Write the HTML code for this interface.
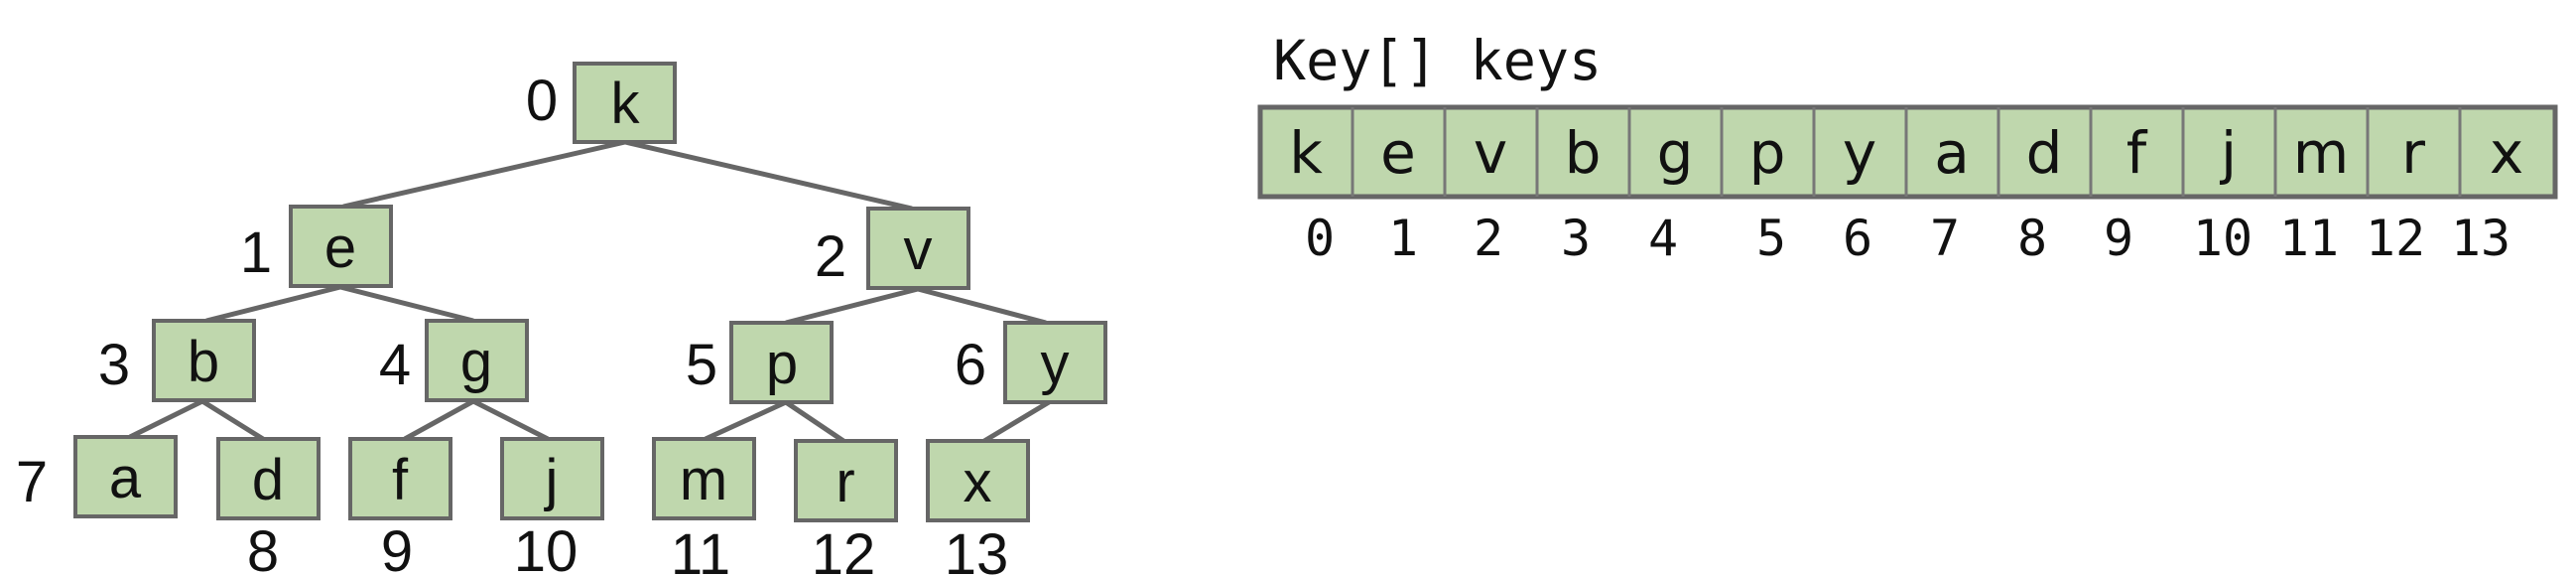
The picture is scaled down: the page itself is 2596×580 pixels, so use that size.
<!DOCTYPE html>
<html><head><style>
html,body{margin:0;padding:0;background:#fff;}
svg{display:block;}
.n{fill:#bfd7ad;stroke:#666;stroke-width:4;}
.l{stroke:#666;stroke-width:5;}
.t{font-family:"Liberation Sans",sans-serif;font-size:58px;fill:#111;text-anchor:middle;}
.i{font-family:"Liberation Sans",sans-serif;font-size:58px;fill:#111;text-anchor:middle;}
.m{font-family:"DejaVu Sans Mono",monospace;fill:#111;}
.a{font-family:"DejaVu Sans","Liberation Sans",sans-serif;font-size:58px;fill:#111;text-anchor:middle;}
</style></head><body>
<svg width="2596" height="580" viewBox="0 0 2596 580" xmlns="http://www.w3.org/2000/svg">
<g>
<line class="l" x1="630" y1="143" x2="346" y2="208"/>
<line class="l" x1="630" y1="143" x2="919" y2="210"/>
<line class="l" x1="343" y1="289" x2="208" y2="323"/>
<line class="l" x1="343" y1="289" x2="477" y2="323"/>
<line class="l" x1="925" y1="291" x2="792" y2="325"/>
<line class="l" x1="925" y1="291" x2="1054" y2="325"/>
<line class="l" x1="204" y1="404" x2="131" y2="440"/>
<line class="l" x1="204" y1="404" x2="265" y2="442"/>
<line class="l" x1="477" y1="404" x2="408" y2="442"/>
<line class="l" x1="477" y1="404" x2="552" y2="442"/>
<line class="l" x1="792" y1="405" x2="711" y2="442"/>
<line class="l" x1="792" y1="405" x2="850" y2="444"/>
<line class="l" x1="1057" y1="405" x2="992" y2="444"/>
</g>
<g>
<rect class="n" x="579" y="64" width="101" height="79"/>
<rect class="n" x="293" y="208" width="101" height="80"/>
<rect class="n" x="875" y="210" width="101" height="80"/>
<rect class="n" x="155" y="323" width="101" height="80"/>
<rect class="n" x="430" y="323" width="101" height="80"/>
<rect class="n" x="737" y="325" width="101" height="80"/>
<rect class="n" x="1013" y="325" width="101" height="80"/>
<rect class="n" x="76" y="440" width="101" height="80"/>
<rect class="n" x="220" y="442" width="101" height="80"/>
<rect class="n" x="353" y="442" width="101" height="80"/>
<rect class="n" x="506" y="442" width="101" height="80"/>
<rect class="n" x="659" y="442" width="101" height="80"/>
<rect class="n" x="802" y="444" width="101" height="80"/>
<rect class="n" x="935" y="444" width="101" height="80"/>
</g>
<g>
<text class="t" x="630" y="124">k</text>
<text class="t" x="343" y="269">e</text>
<text class="t" x="925" y="271">v</text>
<text class="t" x="205" y="384">b</text>
<text class="t" x="480" y="384">g</text>
<text class="t" x="788" y="386">p</text>
<text class="t" x="1063" y="386">y</text>
<text class="t" x="126" y="501">a</text>
<text class="t" x="270" y="503">d</text>
<text class="t" x="403" y="503">f</text>
<text class="t" x="556" y="503">j</text>
<text class="t" x="709" y="503">m</text>
<text class="t" x="852" y="505">r</text>
<text class="t" x="985" y="505">x</text>
</g>
<g>
<text class="i" x="546" y="121">0</text>
<text class="i" x="258" y="274">1</text>
<text class="i" x="837" y="278">2</text>
<text class="i" x="115" y="387">3</text>
<text class="i" x="398" y="387">4</text>
<text class="i" x="707" y="387">5</text>
<text class="i" x="978" y="387">6</text>
<text class="i" x="32" y="505">7</text>
<text class="i" x="265" y="575">8</text>
<text class="i" x="400" y="575">9</text>
<text class="i" x="550" y="575">10</text>
<text class="i" x="706" y="578">11</text>
<text class="i" x="850" y="578">12</text>
<text class="i" x="984" y="578">13</text>
</g>
<text class="m" x="1283" y="80" font-size="55">Key[] keys</text>
<rect x="1270" y="108" width="1305" height="90" fill="#bfd7ad" stroke="#666" stroke-width="5"/>
<g stroke="#777" stroke-width="3">
<line x1="1363" y1="108" x2="1363" y2="198"/>
<line x1="1456" y1="108" x2="1456" y2="198"/>
<line x1="1549" y1="108" x2="1549" y2="198"/>
<line x1="1642" y1="108" x2="1642" y2="198"/>
<line x1="1735" y1="108" x2="1735" y2="198"/>
<line x1="1828" y1="108" x2="1828" y2="198"/>
<line x1="1921" y1="108" x2="1921" y2="198"/>
<line x1="2014" y1="108" x2="2014" y2="198"/>
<line x1="2107" y1="108" x2="2107" y2="198"/>
<line x1="2200" y1="108" x2="2200" y2="198"/>
<line x1="2293" y1="108" x2="2293" y2="198"/>
<line x1="2386" y1="108" x2="2386" y2="198"/>
<line x1="2479" y1="108" x2="2479" y2="198"/>
</g>
<g>
<text class="a" x="1316" y="174">k</text>
<text class="a" x="1409" y="174">e</text>
<text class="a" x="1502" y="174">v</text>
<text class="a" x="1595" y="174">b</text>
<text class="a" x="1688" y="174">g</text>
<text class="a" x="1781" y="174">p</text>
<text class="a" x="1874" y="174">y</text>
<text class="a" x="1967" y="174">a</text>
<text class="a" x="2060" y="174">d</text>
<text class="a" x="2153" y="174">f</text>
<text class="a" x="2246" y="174">j</text>
<text class="a" x="2339" y="174">m</text>
<text class="a" x="2432" y="174">r</text>
<text class="a" x="2526" y="174">x</text>
</g>
<g class="m" font-size="50" text-anchor="middle">
<text x="1330" y="257">0</text>
<text x="1414" y="257">1</text>
<text x="1500" y="257">2</text>
<text x="1588" y="257">3</text>
<text x="1676" y="257">4</text>
<text x="1785" y="257">5</text>
<text x="1872" y="257">6</text>
<text x="1960" y="257">7</text>
<text x="2048" y="257">8</text>
<text x="2135" y="257">9</text>
<text x="2240" y="257">10</text>
<text x="2327" y="257">11</text>
<text x="2414" y="257">12</text>
<text x="2500" y="257">13</text>
</g>
</svg>
</body></html>
